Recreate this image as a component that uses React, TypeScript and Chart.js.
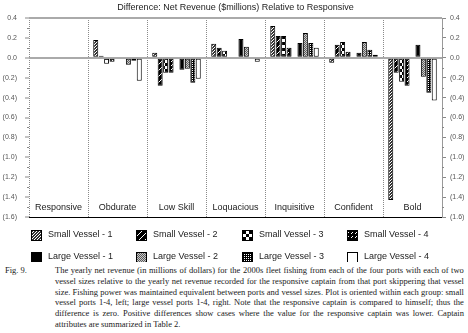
import React, { useEffect, useRef } from 'react';
import { Chart, registerables } from 'chart.js';

Chart.register(...registerables);

const categories = ['Responsive', 'Obdurate', 'Low Skill', 'Loquacious', 'Inquisitive', 'Confident', 'Bold'];
const seriesLabels = [
  'Small Vessel - 1', 'Small Vessel - 2', 'Small Vessel - 3', 'Small Vessel - 4',
  'Large Vessel - 1', 'Large Vessel - 2', 'Large Vessel - 3', 'Large Vessel - 4',
];
const smallVessel1 = [0, 0.18, 0.05, 0.14, 0.32, -0.05, -1.43];
const smallVessel2 = [0, 0.02, -0.28, 0.10, 0.22, 0.13, -0.15];
const smallVessel3 = [0, -0.06, -0.15, 0.07, 0.22, 0.16, -0.24];
const smallVessel4 = [0, -0.04, -0.15, 0.01, 0.10, 0.06, -0.28];
const largeVessel1 = [0, -0.01, -0.12, 0.19, 0.15, 0.05, 0.13];
const largeVessel2 = [0, -0.07, -0.11, 0.11, 0.25, 0.16, -0.19];
const largeVessel3 = [0, -0.03, -0.25, 0, 0.15, 0.08, -0.35];
const largeVessel4 = [0, -0.23, -0.21, -0.04, 0.10, 0.03, -0.43];

const yMin = -1.6;
const yMax = 0.4;
const yStep = 0.2;

const titleText = 'Difference: Net Revenue ($millions) Relative to Responsive';
const figLabel = 'Fig. 9.';
const captionLines = [
  'The yearly net revenue (in millions of dollars) for the 2000s fleet fishing from each of the four ports with each of two',
  'vessel sizes relative to the yearly net revenue recorded for the responsive captain from that port skippering that vessel',
  'size. Fishing power was maintained equivalent between ports and vessel sizes. Plot is oriented within each group: small',
  'vessel ports 1-4, left; large vessel ports 1-4, right. Note that the responsive captain is compared to himself; thus the',
  'difference is zero. Positive differences show cases where the value for the responsive captain was lower. Captain',
  'attributes are summarized in Table 2.',
];

function fmtTick(v: number): string {
  const r = Math.round(v * 10) / 10;
  if (Math.abs(r) < 1e-9) return '0.0';
  return r < 0 ? `(${(-r).toFixed(1)})` : r.toFixed(1);
}

function makePattern(size: number, fn: (x: number, y: number) => string): CanvasPattern | string {
  const c = document.createElement('canvas');
  c.width = size;
  c.height = size;
  const g = c.getContext('2d');
  if (!g) return '#000';
  for (let y = 0; y < size; y++) {
    for (let x = 0; x < size; x++) {
      g.fillStyle = fn(x, y);
      g.fillRect(x, y, 1, 1);
    }
  }
  return g.createPattern(c, 'repeat') || '#000';
}

const SANS = '"Liberation Sans", Arial, sans-serif';

export default function App() {
  const canvasRef = useRef<HTMLCanvasElement | null>(null);

  useEffect(() => {
    const canvas = canvasRef.current;
    if (!canvas) return;

    const fills = [
      makePattern(3, (x, y) => ((x + y) % 3 === 0 ? '#ffffff' : '#333333')),
      makePattern(6, (x, y) => ((x + y) % 6 === 0 ? '#ffffff' : '#000000')),
      makePattern(6, (x, y) => ((Math.floor(x / 3) + Math.floor(y / 3)) % 2 === 0 ? '#000000' : '#ffffff')),
      makePattern(8, (x, y) => ((x + y) % 4 === 0 && Math.floor(y / 2) % 2 === 0 ? '#ffffff' : '#000000')),
      '#000000',
      makePattern(2, (x, y) => ((x + y) % 2 === 0 ? '#5a5a5a' : '#c8c8c8')),
      makePattern(2, (x, y) => (x % 2 === 0 && y % 2 === 0 ? '#ffffff' : '#000000')),
      '#ffffff',
    ];

    const seriesData = [
      smallVessel1, smallVessel2, smallVessel3, smallVessel4,
      largeVessel1, largeVessel2, largeVessel3, largeVessel4,
    ];

    const datasets: any[] = [];
    seriesData.forEach((d, i) => {
      if (i === 4) {
        datasets.push({
          label: '',
          data: categories.map(() => null),
          backgroundColor: 'transparent',
          borderWidth: 0,
        });
      }
      datasets.push({
        label: seriesLabels[i],
        data: d,
        backgroundColor: fills[i],
        borderColor: '#000000',
        borderWidth: 1,
        borderSkipped: false,
        barPercentage: 0.92,
        categoryPercentage: 0.83,
      });
    });

    const decorPlugin = {
      id: 'decor',
      afterDraw(chart: any) {
        const ctx = chart.ctx as CanvasRenderingContext2D;
        const area = chart.chartArea;
        const xs = chart.scales.x;
        const ys = chart.scales.y;
        ctx.save();
        ctx.fillStyle = '#222222';
        ctx.font = `9px ${SANS}`;
        ctx.textAlign = 'center';
        ctx.textBaseline = 'middle';
        ctx.fillText(titleText, (area.left + area.right) / 2, 8);
        categories.forEach((c, i) => {
          ctx.fillText(c, xs.getPixelForValue(i), area.bottom - 9.5);
        });
        ctx.strokeStyle = '#888888';
        ctx.lineWidth = 1;
        for (let k = 0; k < Math.round((yMax - yMin) / yStep); k++) {
          const v = yMin + yStep * k + yStep / 2;
          const py = Math.round(ys.getPixelForValue(v)) + 0.5;
          ctx.beginPath();
          ctx.moveTo(area.left - 2, py);
          ctx.lineTo(area.left, py);
          ctx.moveTo(area.right, py);
          ctx.lineTo(area.right + 2, py);
          ctx.stroke();
        }
        const colX = [31, 136, 242, 347];
        const rowY = [235, 257];
        const sw = 11;
        ctx.textAlign = 'left';
        ctx.textBaseline = 'middle';
        ctx.font = `9px ${SANS}`;
        seriesLabels.forEach((lab, i) => {
          const cx = colX[i % 4];
          const cy = rowY[Math.floor(i / 4)];
          const top = Math.round(cy - sw / 2);
          ctx.fillStyle = fills[i] as any;
          ctx.fillRect(cx, top, sw, sw);
          ctx.strokeStyle = '#000000';
          ctx.lineWidth = 1;
          ctx.strokeRect(cx + 0.5, top + 0.5, sw - 1, sw - 1);
          ctx.fillStyle = '#222222';
          ctx.fillText(lab, cx + sw + 6, cy);
        });
        ctx.restore();
      },
    };

    const chart = new Chart(canvas, {
      type: 'bar',
      data: { labels: categories, datasets },
      plugins: [decorPlugin],
      options: {
        animation: false,
        responsive: false,
        devicePixelRatio: 1,
        layout: { padding: { left: 0, right: 0, top: 18, bottom: 45 } },
        plugins: {
          legend: { display: false },
          title: { display: false },
          tooltip: { enabled: false },
        },
        scales: {
          x: {
            type: 'category',
            offset: true,
            ticks: { display: false },
            grid: {
              offset: true,
              color: '#8a8a8a',
              lineWidth: 1,
              drawTicks: false,
            },
            border: { display: true, color: '#000000', width: 1, dash: [1, 1] },
            afterFit: (s: any) => { s.height = 0; },
          },
          y: {
            position: 'left',
            min: yMin,
            max: yMax,
            ticks: {
              stepSize: yStep,
              padding: 8,
              color: '#555555',
              font: { family: SANS, size: 7 },
              callback: (v: any) => fmtTick(Number(v)),
            },
            grid: {
              color: (c: any) => {
                const v = c.tick ? c.tick.value : NaN;
                return Math.abs(v) < 1e-6 || Math.abs(v - yMax) < 1e-6 ? '#aaaaaa' : 'rgba(0,0,0,0)';
              },
              lineWidth: 2,
              tickColor: '#888888',
              tickWidth: 1,
              tickLength: 4,
            },
            border: { display: false },
            afterFit: (s: any) => { s.width = 29; },
          },
          y2: {
            position: 'right',
            min: yMin,
            max: yMax,
            ticks: {
              stepSize: yStep,
              padding: 4,
              color: '#555555',
              font: { family: SANS, size: 7 },
              callback: (v: any) => fmtTick(Number(v)),
            },
            grid: {
              drawOnChartArea: false,
              color: '#888888',
              tickColor: '#888888',
              tickLength: 4,
            },
            border: { display: true, color: '#999999', width: 1 },
            afterFit: (s: any) => { s.width = 26; },
          },
        },
      } as any,
    });

    return () => chart.destroy();
  }, []);

  return (
    <div style={{ position: 'absolute', left: 0, top: 0, width: 468, height: 333, background: '#ffffff', overflow: 'hidden' }}>
      <canvas ref={canvasRef} width={468} height={262} style={{ display: 'block', width: 468, height: 262 }} />
      <div style={{ position: 'absolute', left: 0, top: 265, width: 468, fontFamily: '"Liberation Serif", "Times New Roman", serif', fontSize: 8.5, lineHeight: '10.8px', color: '#1a1a1a' }}>
        <div style={{ position: 'absolute', left: 5, top: 0 }}>{figLabel}</div>
        <div style={{ position: 'absolute', left: 55, top: 0, width: 409 }}>
          {captionLines.map((line, li) => (
            <div
              key={li}
              style={{
                display: 'flex',
                justifyContent: li === captionLines.length - 1 ? 'flex-start' : 'space-between',
                gap: li === captionLines.length - 1 ? '2px' : undefined,
                whiteSpace: 'nowrap',
                height: '10.8px',
              }}
            >
              {line.split(' ').map((w, wi) => (
                <span key={wi}>{w}</span>
              ))}
            </div>
          ))}
        </div>
      </div>
    </div>
  );
}
